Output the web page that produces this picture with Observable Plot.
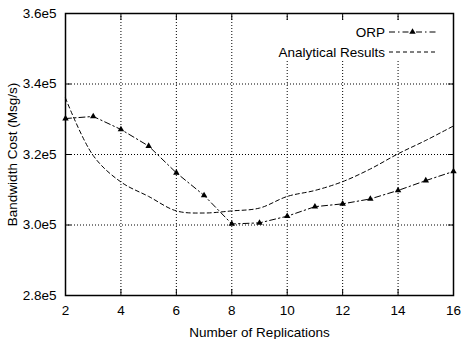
<!DOCTYPE html>
<html>
<head>
<meta charset="utf-8">
<script src="https://cdn.jsdelivr.net/npm/d3@7"></script>
<script src="https://cdn.jsdelivr.net/npm/@observablehq/plot@0.6"></script>
<style>
  html, body { margin: 0; padding: 0; background: #fff; }
  #wrap { position: relative; width: 462px; height: 339px; font-family: "Liberation Sans", Arial, sans-serif; }
  #legend { position: absolute; left: 266px; top: 20px; width: 181px; height: 41px; background: #fff; font-size: 13.5px; color: #000; }
  .row { position: absolute; right: 0; display: flex; align-items: center; height: 20px; }
  .row span { margin-right: 3px; }
</style>
</head>
<body>
<div id="wrap"></div>
<script>
const replications = [2, 3, 4, 5, 6, 7, 8, 9, 10, 11, 12, 13, 14, 15, 16];
const orpValues = [3.302e5, 3.308e5, 3.271e5, 3.224e5, 3.148e5, 3.084e5, 3.003e5, 3.006e5, 3.025e5, 3.052e5, 3.060e5, 3.074e5, 3.098e5, 3.126e5, 3.152e5];
const analyticalValues = [3.360e5, 3.197e5, 3.122e5, 3.081e5, 3.040e5, 3.034e5, 3.040e5, 3.048e5, 3.081e5, 3.098e5, 3.123e5, 3.159e5, 3.202e5, 3.240e5, 3.281e5];
const xTicks = [2, 4, 6, 8, 10, 12, 14, 16];
const yTicks = [2.8e5, 3.0e5, 3.2e5, 3.4e5, 3.6e5];
const seriesNames = ["ORP", "Analytical Results"];
const xLabel = "Number of Replications";
const yLabel = "Bandwidth Cost (Msg/s)";

const orp = replications.map((x, i) => ({x, y: orpValues[i]}));
const analytical = replications.map((x, i) => ({x, y: analyticalValues[i]}));
const fmtY = d => (d / 1e5).toFixed(1) + "e5";

const chart = Plot.plot({
  width: 462,
  height: 339,
  marginLeft: 65,
  marginRight: 9,
  marginTop: 13,
  marginBottom: 44,
  style: {fontFamily: "Liberation Sans, Arial, sans-serif", fontSize: "13.5px", color: "#000", background: "#fff"},
  x: {domain: [2, 16]},
  y: {domain: [2.8e5, 3.6e5]},
  marks: [
    Plot.gridX(xTicks.slice(1, -1), {stroke: "#000", strokeOpacity: 1, strokeDasharray: "1,2", strokeWidth: 1}),
    Plot.gridY(yTicks.slice(1, -1), {stroke: "#000", strokeOpacity: 1, strokeDasharray: "1,2", strokeWidth: 1}),
    Plot.axisX(xTicks, {anchor: "bottom", tickSize: -6, tickPadding: 16, label: xLabel, labelAnchor: "center", labelArrow: "none", labelOffset: 41, fontSize: 13.5}),
    Plot.axisX(xTicks, {anchor: "top", tickSize: -6, tickFormat: () => "", label: null}),
    Plot.axisY(yTicks, {anchor: "left", tickSize: -6, tickPadding: 15, tickFormat: fmtY, label: yLabel, labelAnchor: "center", labelArrow: "none", labelOffset: 58, fontSize: 13.5}),
    Plot.axisY(yTicks, {anchor: "right", tickSize: -6, tickFormat: () => "", label: null}),
    Plot.line(analytical, {x: "x", y: "y", curve: "catmull-rom", stroke: "#000", strokeWidth: 1, strokeDasharray: "4,3"}),
    Plot.line(orp, {x: "x", y: "y", stroke: "#000", strokeWidth: 1, strokeDasharray: "6,3,1.5,3"}),
    Plot.dot(orp, {x: "x", y: "y", symbol: "triangle", r: 2.4, fill: "#000", stroke: "none"}),
    Plot.frame({stroke: "#000", strokeWidth: 1.5})
  ]
});

const wrap = document.getElementById("wrap");
wrap.appendChild(chart);

const legend = document.createElement("div");
legend.id = "legend";
const rowsTop = [2, 22];
seriesNames.forEach((name, i) => {
  const row = document.createElement("div");
  row.className = "row";
  row.style.top = rowsTop[i] + "px";
  row.style.right = "10px";
  const label = document.createElement("span");
  label.textContent = name;
  row.appendChild(label);
  const sw = d3.create("svg").attr("width", 49).attr("height", 10);
  sw.append("line").attr("x1", 1).attr("x2", 48).attr("y1", 5).attr("y2", 5)
    .attr("stroke", "#000").attr("stroke-width", 1)
    .attr("stroke-dasharray", i === 0 ? "6,3,1.5,3" : "4,3");
  if (i === 0) sw.append("path").attr("d", d3.symbol(d3.symbolTriangle, Math.PI * 2.4 * 2.4)()).attr("transform", "translate(24.5,5)").attr("fill", "#000");
  row.appendChild(sw.node());
  legend.appendChild(row);
});
wrap.appendChild(legend);
</script>
</body>
</html>
